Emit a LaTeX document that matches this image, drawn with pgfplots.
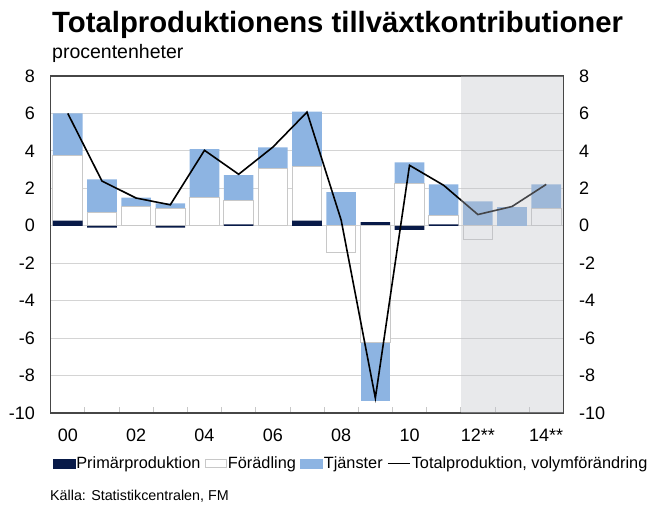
\documentclass[border=0pt]{standalone}
\usepackage{pgfplots}
\pgfplotsset{compat=1.18}
\usepackage{fontspec}
\setmainfont{Liberation Sans}
\definecolor{navy}{RGB}{8,26,72}
\definecolor{tjblue}{RGB}{141,180,226}
\definecolor{fedge}{RGB}{200,200,200}
\definecolor{gridc}{RGB}{212,212,212}
\definecolor{axc}{RGB}{70,70,70}
\definecolor{fcast}{RGB}{190,193,200}
\begin{document}
\begin{tikzpicture}
\useasboundingbox (0,0) rectangle (649bp,505bp);
\node[anchor=base west, inner sep=0, font=\bfseries\fontsize{29.3bp}{32bp}\selectfont] at (52bp,472.5bp) {Totalproduktionens tillväxtkontributioner};
\node[anchor=base west, inner sep=0, font=\fontsize{19.5bp}{22bp}\selectfont] at (52bp,446.7bp) {procentenheter};
\node[anchor=base west, inner sep=0, font=\fontsize{14.3bp}{16bp}\selectfont] at (50bp,5bp) {Källa: Statistikcentralen, FM};
\begin{axis}[
  at={(50.7bp,92bp)}, anchor=south west,
  scale only axis, width=512.6bp, height=337bp,
  xmin=-0.5, xmax=14.5, ymin=-10, ymax=8,
  ytick={-10,-8,...,8},
  xtick={0,2,...,14}, xticklabels={00,02,04,06,08,10,12**,14**},
  minor xtick={0.5,1.5,...,13.5},
  xtick pos=left, ytick pos=left,
  major tick length=0pt, minor tick length=5.5bp,
  minor x tick style={color=fedge, line width=0.8bp},
  ymajorgrids, grid style={gridc, line width=0.8bp},
  axis line style={axc, line width=1.3bp},
  /pgf/number format/assume math mode=true,
  tick label style={font=\fontsize{18bp}{20bp}\selectfont, inner sep=0pt},
  xticklabel style={anchor=base, yshift=-29bp},
  yticklabel style={anchor=east, xshift=-15.5bp},
  legend columns=4,
  legend style={at={(0.004,-0.15)}, anchor=west, draw=none, fill=none, inner sep=0pt,
    font=\fontsize{16.3bp}{18bp}\selectfont, nodes={inner sep=1bp},
    /tikz/every even column/.append style={column sep=3.5bp}},
]
% Tjänster, positive cumulative tops
\addplot[ybar, bar width=0.866, bar shift=0pt, fill=tjblue, draw=none, forget plot] coordinates {
(0,6.0)(1,2.48)(2,1.5)(3,1.2)(4,4.09)(5,2.7)(6,4.19)(7,6.1)(8,1.8)(10,3.39)(11,2.21)(12,1.3)(13,1.0)(14,2.21)};
% Förädling, positive cumulative
\addplot[ybar, bar width=0.866, bar shift=0pt, fill=white, draw=fedge, line width=1bp, forget plot] coordinates {
(0,3.77)(1,0.73)(2,1.03)(3,0.94)(4,1.53)(5,1.36)(6,3.05)(7,3.14)(10,2.25)(11,0.55)(14,0.94)};
% Primärproduktion, positive
\addplot[ybar, bar width=0.866, bar shift=0pt, fill=navy, draw=none, forget plot] coordinates {
(0,0.28)(5,0.08)(7,0.27)(9,0.19)(11,0.08)};
% Tjänster, negative cumulative
\addplot[ybar, bar width=0.866, bar shift=0pt, fill=tjblue, draw=none, forget plot] coordinates {
(9,-9.36)};
% Förädling, negative cumulative
\addplot[ybar, bar width=0.866, bar shift=0pt, fill=white, draw=fedge, line width=1bp, forget plot] coordinates {
(8,-1.41)(9,-6.23)(12,-0.73)};
% Primärproduktion, negative
\addplot[ybar, bar width=0.866, bar shift=0pt, fill=navy, draw=none, forget plot] coordinates {
(1,-0.1)(3,-0.1)(10,-0.22)};
% Totalproduktion
\addplot[black, line width=1.6bp, mark=none, forget plot] coordinates {
(0,6.0)(1,2.39)(2,1.48)(3,1.12)(4,4.03)(5,2.75)(6,4.2)(7,6.07)(8,0.3)(9,-9.2)(10,3.23)(11,2.16)(12,0.6)(13,1.03)(14,2.21)};
\fill[fcast, fill opacity=0.36] (axis cs:11.5,-10) rectangle (axis cs:14.5,8);
\addlegendimage{legend image code/.code={\fill[navy] (0bp,-4.5bp) rectangle (22bp,4.5bp);}}
\addlegendentry{Primärproduktion}
\addlegendimage{legend image code/.code={\filldraw[fill=white, draw=fedge, line width=1bp] (0.5bp,-4bp) rectangle (21.5bp,4bp);}}
\addlegendentry{Förädling}
\addlegendimage{legend image code/.code={\fill[tjblue] (0bp,-4.5bp) rectangle (22bp,4.5bp);}}
\addlegendentry{Tjänster}
\addlegendimage{legend image code/.code={\draw[black, line width=1.6bp] (0bp,0bp) -- (22bp,0bp);}}
\addlegendentry{Totalproduktion, volymförändring}
\end{axis}
\begin{axis}[
  at={(50.7bp,92bp)}, anchor=south west,
  scale only axis, width=512.6bp, height=337bp,
  xmin=-0.5, xmax=14.5, ymin=-10, ymax=8,
  axis x line=none, axis y line*=right,
  ytick={-10,-8,...,8}, major tick length=0pt,
  axis line style={axc, line width=1.3bp, -},
  /pgf/number format/assume math mode=true,
  yticklabel style={font=\fontsize{18bp}{20bp}\selectfont, inner sep=0pt, anchor=west, xshift=15.5bp},
]
\addplot[draw=none, forget plot] coordinates {(0,0)};
\end{axis}
\end{tikzpicture}
\end{document}
